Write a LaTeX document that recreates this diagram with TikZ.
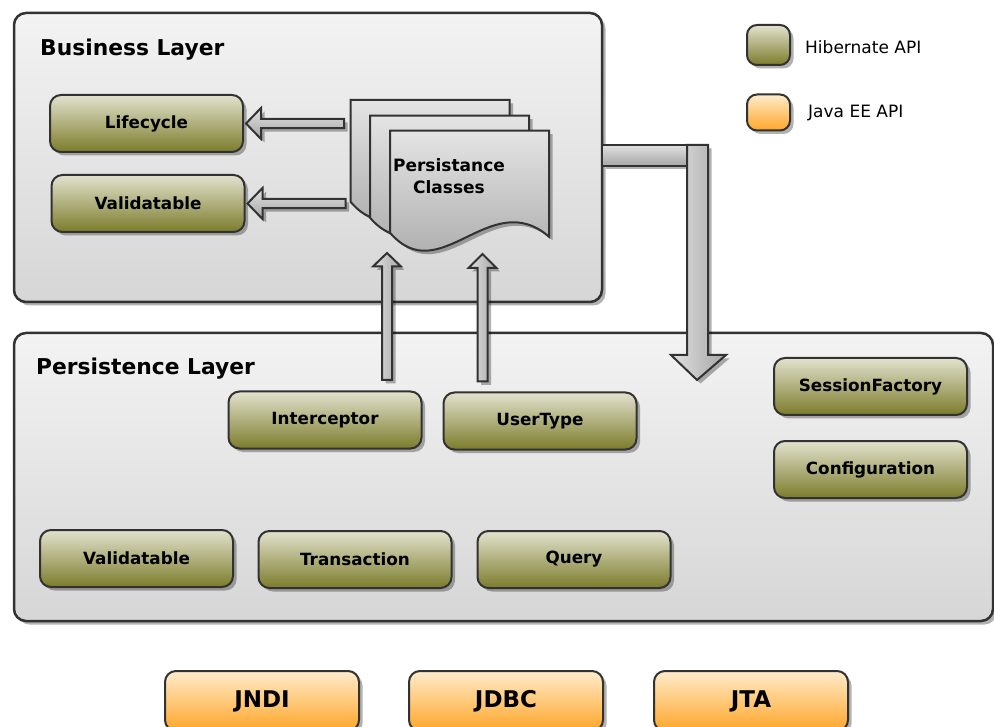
\documentclass[tikz,border=0pt]{standalone}
\usepackage{fontspec}
\setmainfont{DejaVu Sans}
\usetikzlibrary{shadows}
\definecolor{bord}{RGB}{50,50,50}
\definecolor{layT}{RGB}{243,243,243}
\definecolor{layB}{RGB}{214,214,214}
\definecolor{hibT}{RGB}{226,226,206}
\definecolor{hibB}{RGB}{124,124,44}
\definecolor{jeeT}{RGB}{255,236,204}
\definecolor{jeeB}{RGB}{255,166,40}
\definecolor{arrT}{RGB}{225,225,225}
\definecolor{arrB}{RGB}{165,165,165}
\definecolor{docT}{RGB}{228,228,228}
\definecolor{docB}{RGB}{160,160,160}
\tikzset{
  shad/.style={drop shadow={shadow xshift=3.5pt, shadow yshift=-3.5pt, fill=black, opacity=0.3}},
  layer/.style={draw=bord, line width=2.5pt, rounded corners=12pt, top color=layT, bottom color=layB, shad},
  title/.style={anchor=base west, inner sep=0pt, font=\fontsize{21.8}{24}\selectfont\bfseries},
  hib/.style={draw=bord, line width=2pt, rounded corners=11pt, top color=hibT, bottom color=hibB, shad,
    minimum width=193pt, minimum height=57pt, inner sep=0pt, font=\fontsize{16.8}{20}\selectfont\bfseries},
  jee/.style={draw=bord, line width=2pt, rounded corners=11pt, top color=jeeT, bottom color=jeeB, shad,
    minimum width=194pt, minimum height=60pt, inner sep=0pt, font=\fontsize{23}{26}\selectfont\bfseries},
  legbox/.style={draw=bord, line width=2pt, rounded corners=10pt, shad, minimum width=43pt, inner sep=0pt},
  legtext/.style={anchor=west, inner sep=0pt, font=\fontsize{17}{19}\selectfont},
  barrowH/.style={draw=bord, line width=2pt, top color=arrT, bottom color=arrB, shad},
  barrowV/.style={draw=bord, line width=2pt, left color=arrT, right color=arrB, shad},
  docst/.style={draw=bord, line width=2pt, top color=docT, bottom color=docB, shad},
}
\begin{document}
\begin{tikzpicture}[x=1pt, y=-1pt]
\useasboundingbox (0,0) rectangle (994,727);
\clip (0,0) rectangle (994,727);
\fill[white] (0,0) rectangle (994,727);

% layers
\draw[layer] (14,13) rectangle (602,302);
\draw[layer] (14,333) rectangle (993,621);
\node[title] (bltitle) at (40,56) {Business Layer};
\node[title] (pltitle) at (36,375) {Persistence Layer};

% persistance classes documents
\begin{scope}[shift={(350.7,100)}]
\path[docst] (0,0) -- (159,0) -- (159,106) .. controls (100,55) and (50,160) .. (0,102) -- cycle;
\end{scope}
\begin{scope}[shift={(370,115.7)}]
\path[docst] (0,0) -- (159,0) -- (159,106) .. controls (100,55) and (50,160) .. (0,102) -- cycle;
\end{scope}
\begin{scope}[shift={(390,130.7)}]
\path[docst] (0,0) -- (159,0) -- (159,106) .. controls (100,55) and (50,160) .. (0,102) -- cycle;
\end{scope}
\node[align=center, inner sep=0pt, font=\fontsize{17}{22}\selectfont\bfseries] (pc) at (449,176) {Persistance\\Classes};

% hibernate API nodes
\node[hib] (life) at (146.5,123.5) {Lifecycle};
\node[hib] (valb) at (148,203.5) {Validatable};
\node[hib] (inter) at (325,420) {Interceptor};
\node[hib] (utype) at (540,421) {UserType};
\node[hib] (sf) at (870.5,386.5) {SessionFactory};
\node[hib] (conf) at (870.5,469.5) {Configuration};
\node[hib] (valp) at (136.5,558.5) {Validatable};
\node[hib] (trans) at (355,559.5) {Transaction};
\node[hib] (query) at (574,559.5) {Query};

% Java EE nodes
\node[jee] (jndi) at (262,701) {JNDI};
\node[jee] (jdbc) at (506,701) {JDBC};
\node[jee] (jta) at (751,701) {JTA};

% legend
\node[legbox, top color=hibT, bottom color=hibB, minimum height=40pt] (leg1) at (768.5,45) {};
\node[legtext] (leg1t) at (805,47) {Hibernate API};
\node[legbox, top color=jeeT, bottom color=jeeB, minimum height=36pt] (leg2) at (768.5,112.5) {};
\node[legtext] (leg2t) at (808,113) {Java EE API};

% left block arrows (documents -> Lifecycle / Validatable)
\path[barrowH] ([xshift=2pt]life.east) coordinate (t1) -- ++(15,-15.5) -- ++(0,10.8) -- ++(83,0) -- ++(0,9.4) -- ++(-83,0) -- ++(0,10.8) -- cycle;
\path[barrowH] ([xshift=2pt]valb.east) coordinate (t2) -- ++(15,-15.5) -- ++(0,10.8) -- ++(83,0) -- ++(0,9.4) -- ++(-83,0) -- ++(0,10.8) -- cycle;

% up block arrows (Interceptor / UserType -> documents)
\coordinate (u1) at (387,253);
\coordinate (u2) at (482.5,254);
\path[barrowV] (u1) -- (401,266.5) -- (392,266.5) -- (392,380) -- (382,380) -- (382,266.5) -- (373,266.5) -- cycle;
\path[barrowV] (u2) -- (496.5,268) -- (487.5,268) -- (487.5,381.5) -- (477.5,381.5) -- (477.5,268) -- (468.5,268) -- cycle;

% elbow block arrow from business layer down into persistence layer
\path[barrowH] (602,145) rectangle (696,166);
\coordinate (e1) at (697,380);
\path[barrowV] (687,145) -- (708,145) -- (708,355) -- (726,355) -- (e1) -- (671,355) -- (687,355) -- cycle;
\end{tikzpicture}
\end{document}
